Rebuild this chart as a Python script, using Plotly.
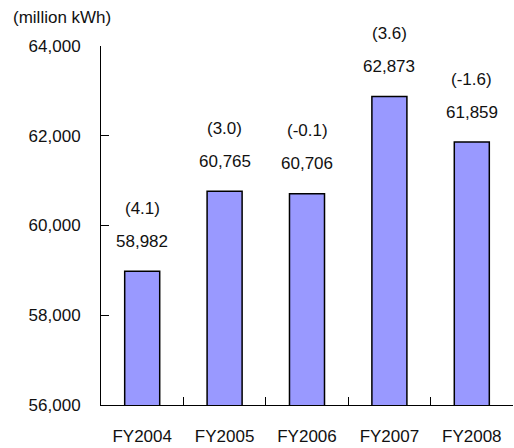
import plotly.graph_objects as go

years = ["FY2004", "FY2005", "FY2006", "FY2007", "FY2008"]
sales = [58982, 60765, 60706, 62873, 61859]
growth = ["(4.1)", "(3.0)", "(-0.1)", "(3.6)", "(-1.6)"]
y_ticks = [56000, 58000, 60000, 62000, 64000]

FONT = "Liberation Sans Narrow, Arial Narrow, Liberation Sans, Arial, sans-serif"
FONT_SIZE = 17

fig = go.Figure()
fig.add_trace(
    go.Bar(
        x=years,
        y=sales,
        marker_color="#9999FF",
        marker_line_color="#000000",
        marker_line_width=1.5,
        hoverinfo="skip",
    )
)

for year, value, g in zip(years, sales, growth):
    fig.add_annotation(
        x=year, y=value, text=f"{value:,}", showarrow=False,
        yanchor="middle", yshift=30,
    )
    fig.add_annotation(
        x=year, y=value, text=g, showarrow=False,
        yanchor="middle", yshift=63,
    )

fig.add_annotation(
    xref="paper", yref="paper", x=-0.095, y=1.078,
    text="(million kWh)", showarrow=False,
    xanchor="center", yanchor="middle",
)

fig.update_layout(
    width=514,
    height=448,
    margin=dict(l=101, r=1, t=46, b=43),
    plot_bgcolor="white",
    paper_bgcolor="white",
    bargap=0.575,
    showlegend=False,
    font=dict(family=FONT, size=FONT_SIZE, color="#111111"),
)
fig.update_xaxes(
    automargin=False,
    showline=True,
    linecolor="#000000",
    linewidth=1,
    ticks="inside",
    tickson="boundaries",
    ticklen=8,
    tickcolor="#000000",
    ticklabelstandoff=16,
    showgrid=False,
)
fig.update_yaxes(
    automargin=False,
    range=[56000, 64000],
    tickvals=y_ticks,
    tickformat=",",
    showline=True,
    linecolor="#000000",
    linewidth=1,
    ticks="inside",
    ticklen=8,
    tickcolor="#000000",
    ticklabelstandoff=16,
    showgrid=False,
    zeroline=False,
)

# drop the browser's default body margin so the figure sits at the page corner
fig.write_html(
    "out.html",
    config={"displayModeBar": False},
    post_script="document.body.style.margin='0';",
)
